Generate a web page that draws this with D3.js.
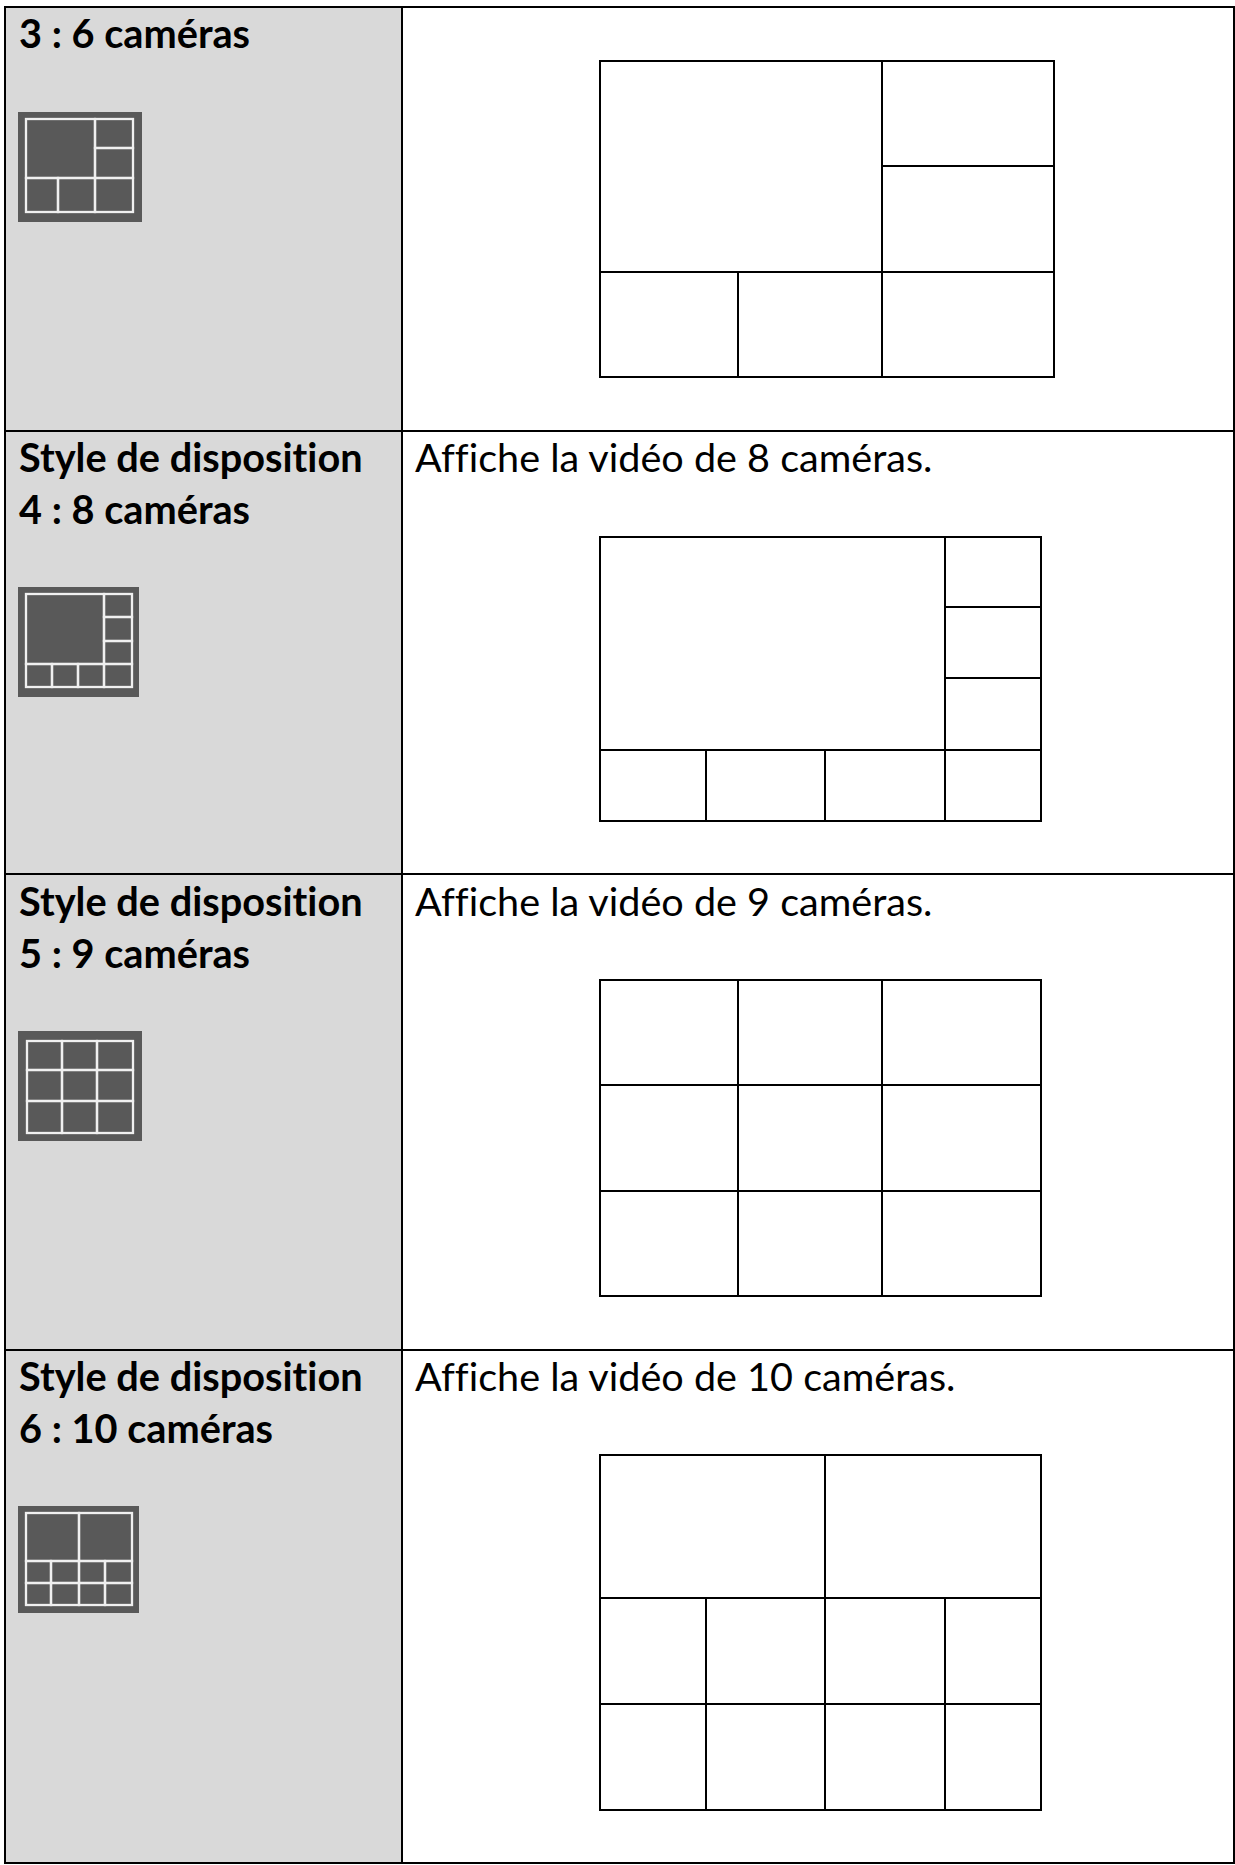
<!DOCTYPE html>
<html>
<head>
<meta charset="utf-8">
<script src="https://cdn.jsdelivr.net/npm/d3@7"></script>
<style>
html, body { margin: 0; padding: 0; background: #fff; }
svg { display: block; }
text { font-family: Lato, "Open Sans", sans-serif; fill: #000; font-variant-ligatures: none; }
.head { font-weight: 700; font-size: 39.7px; }
.desc { font-size: 39.6px; }
</style>
</head>
<body>
<div id="chart"></div>
<script>
w = 1235;
h = 1865;

// table text, one entry per row
var headLine1 = ['', 'Style de disposition', 'Style de disposition', 'Style de disposition'];
var headLine2 = ['3 : 6 caméras', '4 : 8 caméras', '5 : 9 caméras', '6 : 10 caméras'];
var descriptions = ['', 'Affiche la vidéo de 8 caméras.', 'Affiche la vidéo de 9 caméras.', 'Affiche la vidéo de 10 caméras.'];

// camera cells as [col0, row0, col1, row1] on each layout's grid
var cells3 = [[0,0,2,2],[2,0,3,1],[2,1,3,2],[0,2,1,3],[1,2,2,3],[2,2,3,3]];
var cells4 = [[0,0,3,3],[3,0,4,1],[3,1,4,2],[3,2,4,3],[0,3,1,4],[1,3,2,4],[2,3,3,4],[3,3,4,4]];
var cells5 = [[0,0,1,1],[1,0,2,1],[2,0,3,1],[0,1,1,2],[1,1,2,2],[2,1,3,2],[0,2,1,3],[1,2,2,3],[2,2,3,3]];
var cells6 = [[0,0,2,1],[2,0,4,1],[0,1,1,2],[1,1,2,2],[2,1,3,2],[3,1,4,2],[0,2,1,3],[1,2,2,3],[2,2,3,3],[3,2,4,3]];
var layoutCells = [cells3, cells4, cells5, cells6];

// layout of the page
var tableX = [5, 402, 1234];
var tableY = [7, 431, 874, 1350, 1863];
var head1Y = [0, 472, 916, 1391];
var head2Y = [48, 524, 968, 1443];

var bigCols = [[600,738,882,1054],[600,706,825,945,1041],[600,738,882,1041],[600,706,825,945,1041]];
var bigRows = [[61,166,272,377],[537,607,678,750,821],[980,1085,1191,1296],[1455,1598,1704,1810]];

var iconBox = [[18,112,142,222],[18,587,139,697],[18,1031,142,1141],[18,1506,139,1613]];
var iconCols = [[26,58,95,133],[26,52,78,104,132],[27,62,97,133],[26,51,79,105,132]];
var iconRows = [[119,148,178,212],[594,617,641,664,687],[1041,1070,1101,1133],[1513,1561,1583,1605]];

var svg = d3.select('#chart').append('svg')
	.attr('width', w)
	.attr('height', h);

var defs = svg.append('defs');
defs.append('filter')
	.attr('id', 'soft')
	.append('feGaussianBlur')
	.attr('stdDeviation', 0.7);

// left column background
svg.append('rect')
	.attr('x', tableX[0])
	.attr('y', tableY[0])
	.attr('width', tableX[1] - tableX[0])
	.attr('height', tableY[4] - tableY[0])
	.attr('fill', '#d9d9d9');

function drawCells(g, cells, cols, rows, stroke, width, fill) {
	var xScale = d3.scaleLinear().domain(d3.range(cols.length)).range(cols);
	var yScale = d3.scaleLinear().domain(d3.range(rows.length)).range(rows);
	g.selectAll('rect.cell')
		.data(cells)
		.enter().append('rect')
		.attr('class', 'cell')
		.attr('x', function(d) { return xScale(d[0]); })
		.attr('y', function(d) { return yScale(d[1]); })
		.attr('width', function(d) { return xScale(d[2]) - xScale(d[0]); })
		.attr('height', function(d) { return yScale(d[3]) - yScale(d[1]); })
		.attr('fill', fill)
		.attr('stroke', stroke)
		.attr('stroke-width', width);
}

layoutCells.forEach(function(cells, i) {
	// thumbnail in the left column
	var box = iconBox[i];
	svg.append('rect')
		.attr('x', box[0])
		.attr('y', box[1])
		.attr('width', box[2] - box[0])
		.attr('height', box[3] - box[1])
		.attr('fill', '#595959');
	var icon = svg.append('g').attr('filter', 'url(#soft)');
	drawCells(icon, cells, iconCols[i], iconRows[i], '#f0f0f0', 2.3, 'none');

	// big diagram in the right column
	var big = svg.append('g').attr('shape-rendering', 'crispEdges');
	drawCells(big, cells, bigCols[i], bigRows[i], '#000', 2, '#fff');

	// text
	if (headLine1[i]) {
		svg.append('text').attr('class', 'head')
			.attr('x', 19).attr('y', head1Y[i])
			.text(headLine1[i]);
	}
	svg.append('text').attr('class', 'head')
		.attr('x', 19).attr('y', head2Y[i])
		.text(headLine2[i]);
	if (descriptions[i]) {
		svg.append('text').attr('class', 'desc')
			.attr('x', 415).attr('y', head1Y[i])
			.text(descriptions[i]);
	}
});

// table rules
var rules = svg.append('g').attr('stroke', '#000').attr('stroke-width', 2).attr('shape-rendering', 'crispEdges');
tableY.forEach(function(y) {
	rules.append('line').attr('x1', tableX[0] - 1).attr('x2', tableX[2] + 1).attr('y1', y).attr('y2', y);
});
tableX.forEach(function(x) {
	rules.append('line').attr('x1', x).attr('x2', x).attr('y1', tableY[0]).attr('y2', tableY[4]);
});
</script>
</body>
</html>
